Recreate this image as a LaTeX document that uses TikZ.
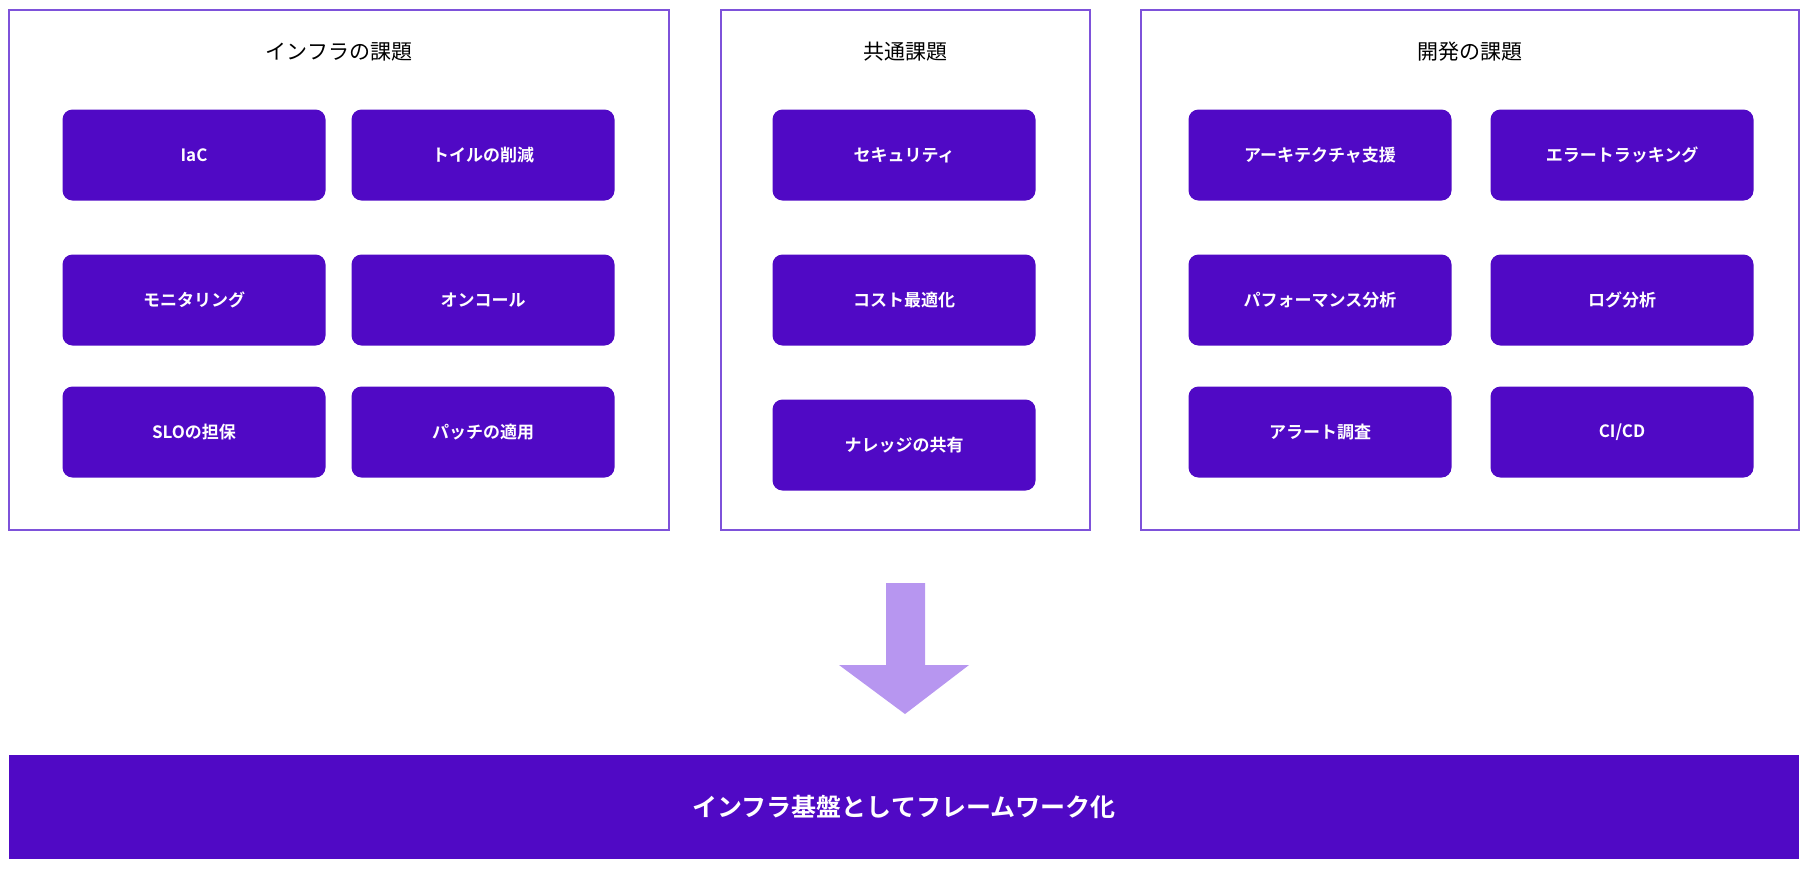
\documentclass[tikz,border=0pt]{standalone}
\usepackage{fontspec}
\newfontfamily\jpfont{Noto Sans CJK JP}
\newfontfamily\jpbold{Noto Sans CJK JP Bold}
\usetikzlibrary{positioning}
\definecolor{taskfill}{HTML}{5009C5}
\definecolor{frameline}{HTML}{7E52DA}
\definecolor{arrowfill}{HTML}{B796F0}

\begin{document}
\begin{tikzpicture}[x=0.5pt,y=-0.5pt]
\tikzset{
  task/.style={rectangle,rounded corners=5pt,fill=taskfill,text=white,minimum width=131.5pt,minimum height=45.5pt,inner sep=0pt,font=\jpbold\fontsize{8.5}{10}\selectfont},
  frame/.style={draw=frameline,line width=1.1pt},
  title/.style={font=\jpfont\fontsize{10.5}{12}\selectfont}
}
\useasboundingbox (0,0) rectangle (1808,874);

%frames.
\draw[frame] (9,10) rectangle (669,530);
\draw[frame] (721,10) rectangle (1090,530);
\draw[frame] (1141,10) rectangle (1799,530);
\node[title] (infra_title) at (339,52) {インフラの課題};
\node[title] (common_title) at (905,52) {共通課題};
\node[title] (dev_title) at (1470,52) {開発の課題};

%infra tasks.
\node[task] (iac) at (194,155) {IaC};
\node[task] (toil) at (483,155) {トイルの削減};
\node[task] (monitoring) at (194,300) {モニタリング};
\node[task] (oncall) at (483,300) {オンコール};
\node[task] (slo) at (194,432) {SLOの担保};
\node[task] (patch) at (483,432) {パッチの適用};

%common tasks.
\node[task] (security) at (904,155) {セキュリティ};
\node[task] (cost) at (904,300) {コスト最適化};
\node[task] (knowledge) at (904,445) {ナレッジの共有};

%dev tasks.
\node[task] (architecture) at (1320,155) {アーキテクチャ支援};
\node[task] (errortrack) at (1622,155) {エラートラッキング};
\node[task] (performance) at (1320,300) {パフォーマンス分析};
\node[task] (logs) at (1622,300) {ログ分析};
\node[task] (alert) at (1320,432) {アラート調査};
\node[task] (cicd) at (1622,432) {CI/CD};

%arrow.
\fill[arrowfill] (886,583) -- (925,583) -- (925,665) -- (969,665) -- (905,714) -- (839,665) -- (886,665) -- cycle;

\node[rectangle,fill=taskfill,text=white,minimum width=895pt,minimum height=52pt,inner sep=0pt,font=\jpbold\fontsize{12.5}{14}\selectfont] (framework) at (904,807) {インフラ基盤としてフレームワーク化};

\end{tikzpicture}
\end{document}
